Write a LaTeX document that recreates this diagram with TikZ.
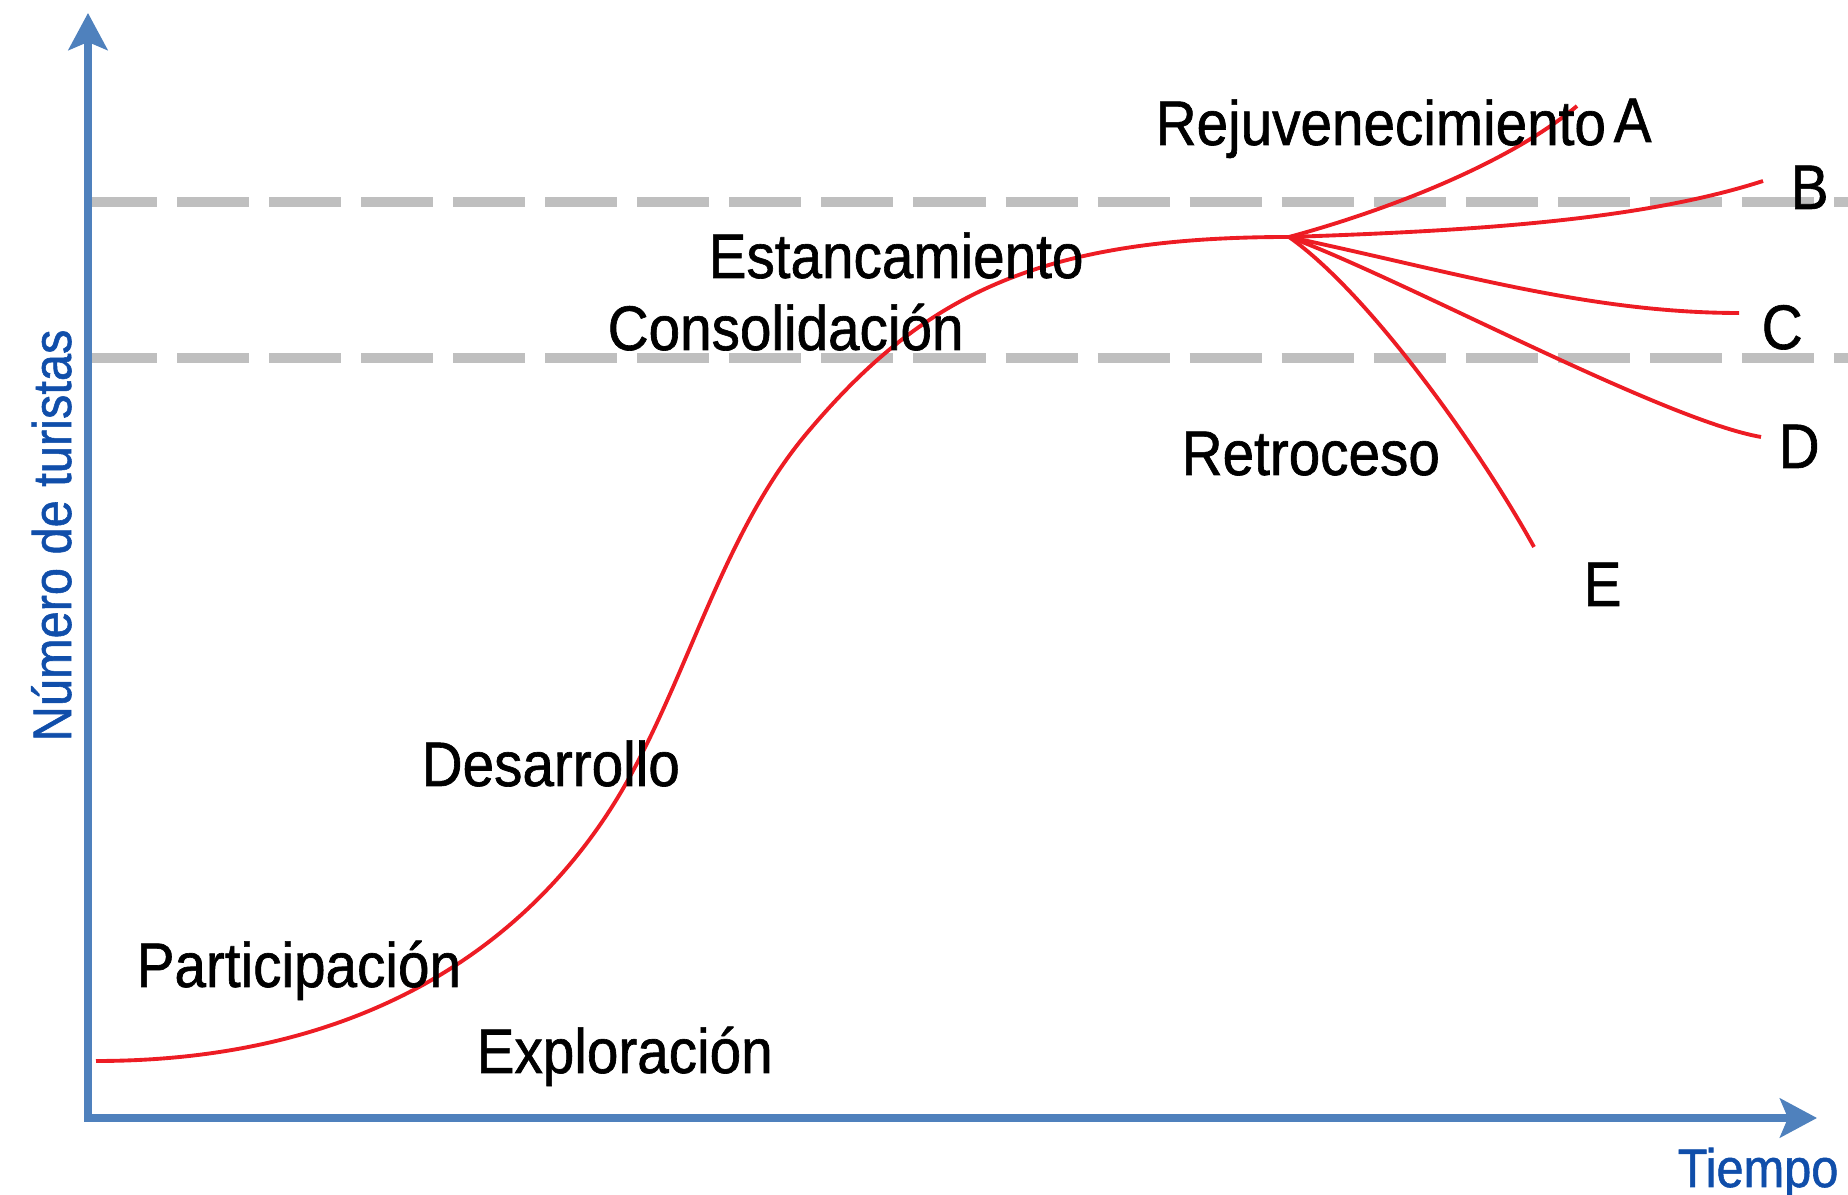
\documentclass[tikz,border=0pt]{standalone}
\usepackage{fontspec}
\setmainfont{Liberation Sans}[FakeStretch=0.9, FakeBold=1]
\usepackage{xcolor}
\usepackage{tikz}
\usetikzlibrary{arrows.meta, positioning}

\definecolor{axisblue}{RGB}{79,129,189}
\definecolor{labelblue}{RGB}{16,78,170}
\definecolor{curvered}{RGB}{237,28,36}
\definecolor{dashgray}{RGB}{191,191,191}

\begin{document}
\begin{tikzpicture}[
    x=0.01cm, y=-0.01cm,
    lbl/.style={font=\fontsize{17.9}{20}\selectfont, inner sep=0pt, anchor=base west},
    axislbl/.style={font=\fontsize{15.4}{18}\selectfont, text=labelblue, inner sep=0pt, anchor=base west},
    axisline/.style={draw=axisblue, line width=2pt, line cap=rect, -{Stealth[length=0.37cm, width=0.39cm, inset=0.08cm]}},
    levelline/.style={draw=dashgray, line width=2.85pt, dash pattern=on 0.72cm off 0.2cm},
    lifecycle/.style={draw=curvered, line width=1.1pt}
]
\useasboundingbox (0,0) rectangle (1848,1195);

\coordinate (hiL) at (85,202);
\coordinate (hiR) at (1848,202);
\coordinate (loL) at (85,358);
\coordinate (loR) at (1848,358);
\draw[levelline] (hiL) -- (hiR);
\draw[levelline] (loL) -- (loR);

\coordinate (origin) at (88,1118);
\coordinate (ytip) at (88,13);
\coordinate (xtip) at (1817,1118);
\draw[axisline] (origin) -- (ytip);
\draw[axisline] (origin) -- (xtip);

\coordinate (start) at (96,1061);
\coordinate (growth) at (624,787);
\coordinate (slowdown) at (807,433);
\coordinate (peak) at (1289,237);
\draw[lifecycle] (start) .. controls (376,1061) and (539,934) .. (growth)
    .. controls (689,674) and (723,533) .. (slowdown)
    .. controls (923,295) and (1039,237) .. (peak);

\coordinate (endA) at (1577,106);
\coordinate (endB) at (1763,181);
\coordinate (endC) at (1739,313);
\coordinate (endD) at (1761,437);
\coordinate (endE) at (1534,547);
\draw[lifecycle] (peak) .. controls (1385,211) and (1508,164) .. (endA);
\draw[lifecycle] (peak) .. controls (1468,231) and (1639,221) .. (endB);
\draw[lifecycle] (peak) .. controls (1454,272) and (1589,313) .. (endC);
\draw[lifecycle] (peak) .. controls (1401,278) and (1663,420) .. (endD);
\draw[lifecycle] (peak) .. controls (1370,294) and (1481,451) .. (endE);

\node[lbl] (rejuv) at (1155,145) {Rejuvenecimiento};
\node[lbl] (markA) at (1613,142) {A};
\node[lbl] (markB) at (1790,209) {B};
\node[lbl] (markC) at (1761,349) {C};
\node[lbl] (markD) at (1778,468) {D};
\node[lbl] (markE) at (1583,606) {E};
\node[lbl] (retro) at (1181,475) {Retroceso};
\node[lbl] (estanc) at (708,278) {Estancamiento};
\node[lbl] (consol) at (607,350) {Consolidación};
\node[lbl] (desarr) at (421,786) {Desarrollo};
\node[lbl] (partic) at (136,987) {Participación};
\node[lbl] (explor) at (476,1073) {Exploración};
\node[axislbl] (tiempo) at (1677,1187) {Tiempo};
\node[axislbl, rotate=90] (turistas) at (71,742) {Número de turistas};
\end{tikzpicture}
\end{document}
